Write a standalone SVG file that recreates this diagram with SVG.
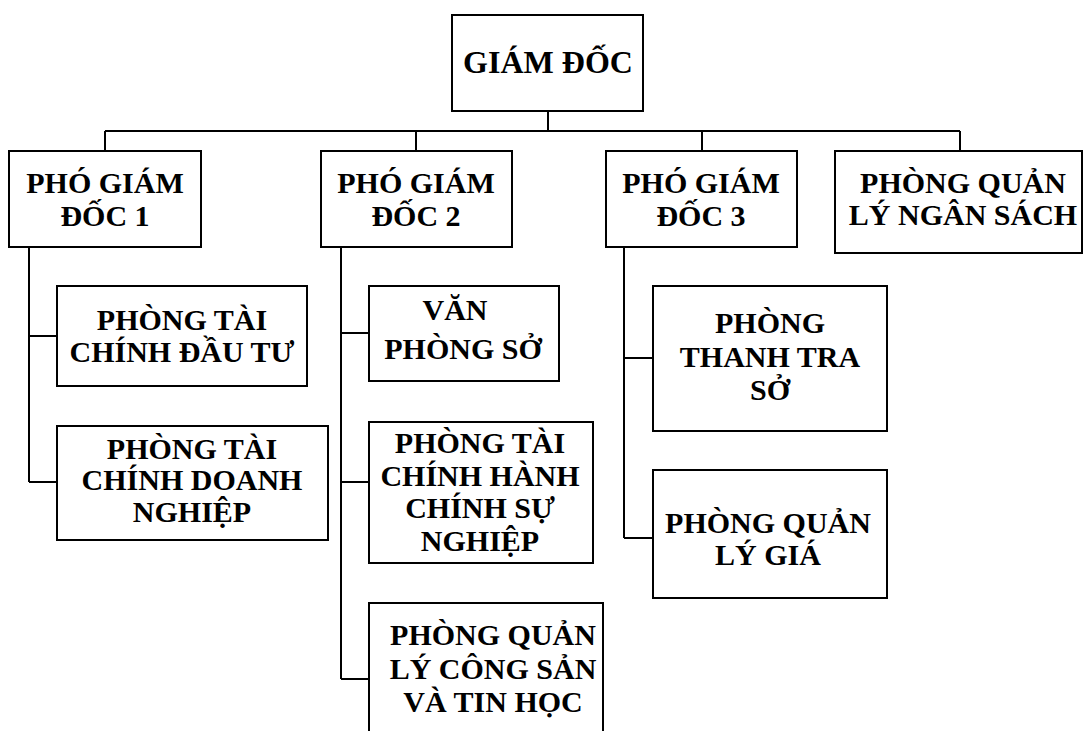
<svg xmlns="http://www.w3.org/2000/svg" width="1085" height="731" viewBox="0 0 1085 731">
<style>
.box{fill:#fff;stroke:#000;stroke-width:2}
.t{font-family:'Liberation Serif',Tinos,'Times New Roman','DejaVu Serif',serif;font-weight:700;font-size:30px;text-anchor:middle;fill:#000}
.big{font-size:32px}
.c{fill:none;stroke:#000;stroke-width:2}
</style>
<rect width="1085" height="731" fill="#fff"/>
<g id="connectors">
<path class="c" d="M548 111V131M105 131H960M105 131V151M416 131V151M702 131V151M960 131V151"/>
<path class="c" d="M29 247V482M29 336H57M29 482H57"/>
<path class="c" d="M341 247V679M341 333H369M341 482H369M341 679H369"/>
<path class="c" d="M624 247V538M624 358H653M624 538H653"/>
</g>
<g id="giam-doc" font-family="Liberation Serif, serif"><rect class="box" x="452" y="15" width="191" height="96"/><text class="t big" x="548" y="73">GIÁM ĐỐC</text></g>
<g id="pgd1"><rect class="box" x="9" y="151" width="192" height="96"/><text class="t" x="105" y="193">PHÓ GIÁM</text><text class="t" x="105" y="226">ĐỐC 1</text></g>
<g id="pgd2"><rect class="box" x="321" y="151" width="191" height="96"/><text class="t" x="416" y="193">PHÓ GIÁM</text><text class="t" x="416" y="226">ĐỐC 2</text></g>
<g id="pgd3"><rect class="box" x="606" y="151" width="191" height="96"/><text class="t" x="701" y="193">PHÓ GIÁM</text><text class="t" x="701" y="226">ĐỐC 3</text></g>
<g id="qlns"><rect class="box" x="835" y="151" width="247" height="102"/><text class="t" x="963" y="193">PHÒNG QUẢN</text><text class="t" x="963" y="225">LÝ NGÂN SÁCH</text></g>
<g id="tcdt"><rect class="box" x="57" y="286" width="250" height="100"/><text class="t" x="182" y="330">PHÒNG TÀI</text><text class="t" x="182" y="362">CHÍNH ĐẦU TƯ</text></g>
<g id="tcdn"><rect class="box" x="57" y="426" width="271" height="114"/><text class="t" x="192" y="459">PHÒNG TÀI</text><text class="t" x="192" y="490">CHÍNH DOANH</text><text class="t" x="192" y="522">NGHIỆP</text></g>
<g id="vps"><rect class="box" x="369" y="286" width="190" height="95"/><text class="t" x="455" y="320">VĂN</text><text class="t" x="463" y="359">PHÒNG SỞ</text></g>
<g id="tchcsn"><rect class="box" x="369" y="422" width="224" height="141"/><text class="t" x="480" y="453">PHÒNG TÀI</text><text class="t" x="480" y="486">CHÍNH HÀNH</text><text class="t" x="480" y="518">CHÍNH SỰ</text><text class="t" x="480" y="551">NGHIỆP</text></g>
<g id="qlcs"><rect class="box" x="369" y="603" width="234" height="140"/><text class="t" x="493" y="645">PHÒNG QUẢN</text><text class="t" x="493" y="679">LÝ CÔNG SẢN</text><text class="t" x="493" y="712">VÀ TIN HỌC</text></g>
<g id="ttso"><rect class="box" x="653" y="286" width="234" height="145"/><text class="t" x="770" y="333">PHÒNG</text><text class="t" x="770" y="367">THANH TRA</text><text class="t" x="770" y="400">SỞ</text></g>
<g id="qlg"><rect class="box" x="653" y="470" width="234" height="128"/><text class="t" x="768" y="533">PHÒNG QUẢN</text><text class="t" x="768" y="565">LÝ GIÁ</text></g>
</svg>
